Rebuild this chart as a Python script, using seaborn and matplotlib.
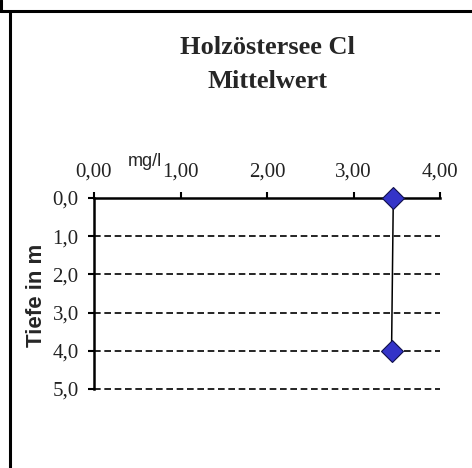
import seaborn as sns
import pandas as pd
import matplotlib.pyplot as plt
from matplotlib.lines import Line2D

# data
tiefe = [0.0, 4.0]            # Tiefe in m
chlorid = [3.46, 3.44]        # Cl mittelwert, mg/l
x_ticks = [0, 1, 2, 3, 4]
y_ticks = [0, 1, 2, 3, 4, 5]

df = pd.DataFrame({"Tiefe": tiefe, "Cl": chlorid})

sns.set_style("white")
plt.rcParams["font.family"] = ["Liberation Serif", "DejaVu Serif"]

fig = plt.figure(figsize=(4.72, 4.68), dpi=100)
ax = fig.add_axes([94 / 472, 1 - 389 / 468, (440 - 94) / 472, (389 - 198) / 468])

# dashed grid lines at the depth ticks (not at the surface)
for y in y_ticks[1:]:
    ax.axhline(y, color="black", lw=1.2, ls=(0, (4, 2.2)), zorder=1, clip_on=False)

sns.lineplot(data=df, x="Cl", y="Tiefe", sort=False, color="black", lw=1.1,
             marker="D", markersize=11, markerfacecolor="#3434c8",
             markeredgecolor="#10104a", markeredgewidth=0.8, ax=ax, zorder=3,
             clip_on=False)

ax.set_xlim(0, 4)
ax.set_ylim(5, 0)
ax.xaxis.tick_top()
ax.set_xticks(x_ticks)
ax.set_xticklabels([f"{v:.2f}".replace(".", ",") for v in x_ticks], fontsize=15)
ax.set_yticks(y_ticks)
ax.set_yticklabels([f"{v:.1f}".replace(".", ",") for v in y_ticks], fontsize=15)
ax.tick_params(axis="both", direction="out", length=4, width=1.5, color="black",
               labelcolor="#222222")
ax.tick_params(axis="x", top=True, bottom=False, pad=7.5)
ax.tick_params(axis="y", left=True, pad=7)

for side in ["right", "bottom"]:
    ax.spines[side].set_visible(False)
for side in ["top", "left"]:
    ax.spines[side].set_visible(True)
    ax.spines[side].set_color("black")
    ax.spines[side].set_linewidth(1.8)
ax.set_xlabel("")
ax.set_ylabel("")

fig.text(267 / 472, 1 - 48 / 468, "Holzöstersee Cl", ha="center", va="center",
         fontsize=19, fontweight="bold")
fig.text(267 / 472, 1 - 82 / 468, "Mittelwert", ha="center", va="center",
         fontsize=19, fontweight="bold")
fig.text(145 / 472, 1 - 162 / 468, "mg/l", ha="center", va="center",
         fontsize=13, family=["Liberation Sans", "DejaVu Sans"])
fig.text(36 / 472, 1 - 295 / 468, "Tiefe in m", ha="center", va="center",
         rotation=90, fontsize=16, fontweight="bold",
         family=["Liberation Sans", "DejaVu Sans"])

# frame lines of the surrounding cell
fig.add_artist(Line2D([0, 1], [1 - 11 / 468] * 2, color="black", lw=2.2))
fig.add_artist(Line2D([10 / 472] * 2, [0, 1 - 11 / 468], color="black", lw=2.2))
fig.add_artist(Line2D([1 / 472] * 2, [1 - 11 / 468, 1], color="black", lw=2.2))

fig.savefig("out.png", dpi=100)
